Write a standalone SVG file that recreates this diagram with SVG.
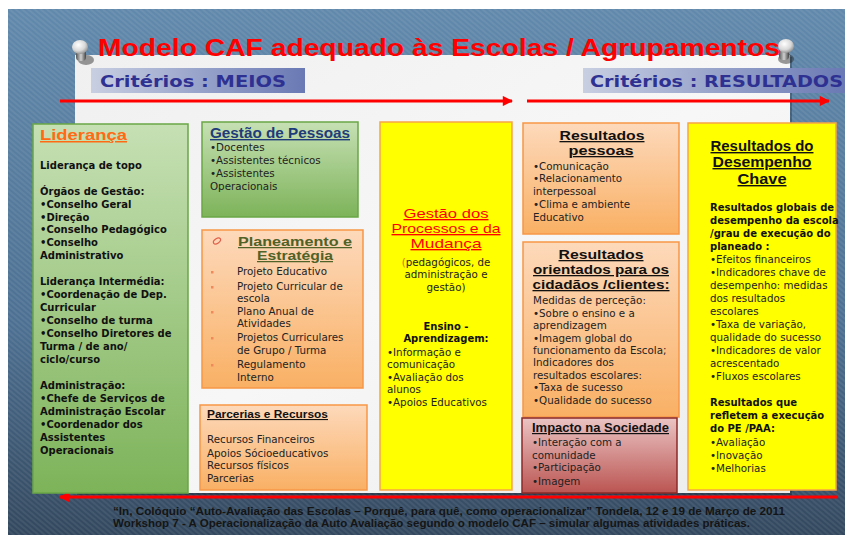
<svg xmlns="http://www.w3.org/2000/svg" width="845" height="535" viewBox="0 0 845 535">
<style>
.b{font-family:"DejaVu Sans",Verdana,sans-serif;font-size:10.3px;fill:#222}
.bb{font-family:"DejaVu Sans",Verdana,sans-serif;font-size:10px;font-weight:bold;fill:#111}
.t{font-family:"Liberation Sans",Arial,sans-serif;font-weight:bold;text-decoration:underline}
.c{text-anchor:middle}
.crit{font-family:"DejaVu Sans",Verdana,sans-serif;font-weight:bold;font-size:16px;fill:#2e3192}
.arrow{stroke:#ff0000;stroke-width:3;fill:none}
</style>
<defs>
<linearGradient id="bg" x1="0" y1="0" x2="0" y2="1">
<stop offset="0" stop-color="#6189ab"/><stop offset="0.6" stop-color="#4d7092"/><stop offset="1" stop-color="#33485e"/>
</linearGradient>
<pattern id="tex" width="4" height="4" patternUnits="userSpaceOnUse" patternTransform="rotate(40)">
<rect width="4" height="2" fill="#ffffff" opacity="0.07"/>
</pattern>
<linearGradient id="panel" x1="0" y1="0" x2="1" y2="1">
<stop offset="0" stop-color="#f0f0f0"/><stop offset="0.5" stop-color="#f7f7f7"/><stop offset="1" stop-color="#ececec"/>
</linearGradient>
<linearGradient id="green" x1="0" y1="0" x2="0" y2="1">
<stop offset="0" stop-color="#c6e0b4"/><stop offset="1" stop-color="#7db359"/>
</linearGradient>
<linearGradient id="orange" x1="0" y1="0" x2="0" y2="1">
<stop offset="0" stop-color="#fdd9bb"/><stop offset="1" stop-color="#f9b064"/>
</linearGradient>
<linearGradient id="red" x1="0" y1="0" x2="0" y2="1">
<stop offset="0" stop-color="#eac4c3"/><stop offset="1" stop-color="#bb5552"/>
</linearGradient>
<linearGradient id="crit" x1="0" y1="0" x2="1" y2="0">
<stop offset="0" stop-color="#c8cfe2"/><stop offset="1" stop-color="#6a79b4"/>
</linearGradient>
<radialGradient id="pinhead" cx="0.4" cy="0.35" r="0.7">
<stop offset="0" stop-color="#ffffff"/><stop offset="0.6" stop-color="#d8d8d8"/><stop offset="1" stop-color="#8a8a8a"/>
</radialGradient>
<linearGradient id="pinbody" x1="0" y1="0" x2="1" y2="0">
<stop offset="0" stop-color="#555"/><stop offset="0.5" stop-color="#d0d0d0"/><stop offset="1" stop-color="#444"/>
</linearGradient>
<marker id="ah" viewBox="0 0 10 10" refX="9" refY="5" markerWidth="4" markerHeight="3.4" orient="auto" markerUnits="strokeWidth">
<path d="M0,0 L10,5 L0,10 Z" fill="#ff0000"/>
</marker>
</defs>

<rect x="0" y="0" width="845" height="535" fill="#ffffff"/>
<rect x="8" y="9" width="837" height="526" fill="url(#bg)"/>
<rect x="8" y="9" width="837" height="526" fill="url(#tex)"/>

<g id="panel">
<rect x="77" y="57" width="715" height="438" fill="#000" opacity="0.25"/>
<rect x="75" y="55" width="715" height="438" fill="url(#panel)"/>
</g>

<g id="pins">
<ellipse cx="86" cy="60" rx="8" ry="5" fill="#222" opacity="0.45"/>
<rect x="76" y="48" width="10" height="13" rx="4" fill="url(#pinbody)"/>
<ellipse cx="80" cy="47" rx="8" ry="7" fill="url(#pinhead)"/>
<ellipse cx="786" cy="59" rx="8" ry="5" fill="#222" opacity="0.45"/>
<rect x="779" y="47" width="10" height="13" rx="4" fill="url(#pinbody)"/>
<ellipse cx="786" cy="46" rx="8" ry="7" fill="url(#pinhead)"/>
</g>

<g id="title">
<text x="98" y="56" font-family="Liberation Sans, Arial, sans-serif" font-weight="bold" font-size="23" fill="#ff0000" textLength="682" lengthAdjust="spacingAndGlyphs">Modelo CAF adequado às Escolas / Agrupamentos</text>
</g>

<g id="criterios-meios">
<rect x="91" y="68" width="214" height="25" fill="url(#crit)"/>
<text class="crit" x="100" y="87" textLength="186" lengthAdjust="spacingAndGlyphs">Critérios : MEIOS</text>
</g>
<g id="criterios-resultados">
<rect x="583" y="68" width="262" height="25" fill="url(#crit)"/>
<text class="crit" x="590" y="87" textLength="253" lengthAdjust="spacingAndGlyphs">Critérios : RESULTADOS</text>
</g>

<g id="connectors">
<line class="arrow" x1="60" y1="101" x2="512" y2="101" marker-end="url(#ah)"/>
<line class="arrow" x1="527" y1="101" x2="829" y2="101" marker-end="url(#ah)"/>
<line class="arrow" x1="838" y1="497" x2="60" y2="497" marker-end="url(#ah)"/>
</g>

<g id="lideranca">
<rect x="33" y="124" width="155" height="369" fill="url(#green)" stroke="#6aa745" stroke-width="1.5"/>
<text class="t" x="40" y="140" font-size="15" fill="#ff6a13" textLength="87" lengthAdjust="spacingAndGlyphs">Liderança</text>
<text class="bb" x="40" y="169">Liderança de topo</text>
<text class="bb" x="40" y="195">Órgãos de Gestão:</text>
<text class="bb" x="40" y="208">•Conselho Geral</text>
<text class="bb" x="40" y="221">•Direção</text>
<text class="bb" x="40" y="233">•Conselho Pedagógico</text>
<text class="bb" x="40" y="246">•Conselho</text>
<text class="bb" x="40" y="259">Administrativo</text>
<text class="bb" x="40" y="285">Liderança Intermédia:</text>
<text class="bb" x="40" y="298">•Coordenação de Dep.</text>
<text class="bb" x="40" y="311">Curricular</text>
<text class="bb" x="40" y="324">•Conselho de turma</text>
<text class="bb" x="40" y="337">•Conselho Diretores de</text>
<text class="bb" x="40" y="350">Turma / de ano/</text>
<text class="bb" x="40" y="363">ciclo/curso</text>
<text class="bb" x="40" y="389">Administração:</text>
<text class="bb" x="40" y="402">•Chefe de Serviços de</text>
<text class="bb" x="40" y="415">Administração Escolar</text>
<text class="bb" x="40" y="428">•Coordenador dos</text>
<text class="bb" x="40" y="441">Assistentes</text>
<text class="bb" x="40" y="454">Operacionais</text>
</g>

<g id="gestao-pessoas">
<rect x="202" y="122" width="156" height="95" fill="url(#green)" stroke="#6aa745" stroke-width="1.5"/>
<text class="t" x="210" y="138" font-size="14" fill="#1f3b7a" textLength="140" lengthAdjust="spacingAndGlyphs">Gestão de Pessoas</text>
<text class="b" x="210" y="151">•Docentes</text>
<text class="b" x="210" y="164">•Assistentes técnicos</text>
<text class="b" x="210" y="177">•Assistentes</text>
<text class="b" x="210" y="190">Operacionais</text>
</g>

<g id="planeamento">
<rect x="202" y="230" width="161" height="158" fill="url(#orange)" stroke="#f79646" stroke-width="1.5"/>
<ellipse cx="217" cy="241" rx="4" ry="2.3" transform="rotate(-35 217 241)" fill="none" stroke="#e0604a" stroke-width="1.2"/>
<text class="t" x="238" y="246" font-size="12.5" fill="#4f6228" textLength="114" lengthAdjust="spacingAndGlyphs">Planeamento e</text>
<text class="t" x="257" y="260" font-size="12.5" fill="#4f6228" textLength="76" lengthAdjust="spacingAndGlyphs">Estratégia</text>
<g fill="#f08a5d">
<rect x="211" y="271" width="2.5" height="2.5"/>
<rect x="211" y="286" width="2.5" height="2.5"/>
<rect x="211" y="311" width="2.5" height="2.5"/>
<rect x="211" y="337" width="2.5" height="2.5"/>
<rect x="211" y="364" width="2.5" height="2.5"/>
</g>
<text class="b" x="237" y="275">Projeto Educativo</text>
<text class="b" x="237" y="290">Projeto Curricular de</text>
<text class="b" x="237" y="302">escola</text>
<text class="b" x="237" y="315">Plano Anual de</text>
<text class="b" x="237" y="327">Atividades</text>
<text class="b" x="237" y="341">Projetos Curriculares</text>
<text class="b" x="237" y="354">de Grupo / Turma</text>
<text class="b" x="237" y="368">Regulamento</text>
<text class="b" x="237" y="381">Interno</text>
</g>

<g id="parcerias">
<rect x="200" y="405" width="167" height="85" fill="url(#orange)" stroke="#f79646" stroke-width="1.5"/>
<text class="t" x="207" y="418" font-size="11" fill="#111" textLength="121" lengthAdjust="spacingAndGlyphs">Parcerias e Recursos</text>
<text class="b" x="207" y="443">Recursos  Financeiros</text>
<text class="b" x="207" y="457">Apoios Sócioeducativos</text>
<text class="b" x="207" y="469">Recursos  físicos</text>
<text class="b" x="207" y="482">Parcerias</text>
</g>

<g id="gestao-processos">
<rect x="380" y="122" width="132" height="368" fill="#ffff00" stroke="#f7a546" stroke-width="1.5"/>
<g font-family="Liberation Sans, Arial, sans-serif" font-size="13.5" fill="#ff0000" text-decoration="underline" text-anchor="middle">
<text x="446" y="218" textLength="85" lengthAdjust="spacingAndGlyphs">Gestão dos</text>
<text x="446" y="233" textLength="109" lengthAdjust="spacingAndGlyphs">Processos e da</text>
<text x="446" y="248" textLength="71" lengthAdjust="spacingAndGlyphs">Mudança</text>
</g>
<text class="b c" x="446" y="266" font-size="10"><tspan fill="#e46c0a">(</tspan>pedagógicos, de</text>
<text class="b c" x="446" y="278" font-size="10">administração e</text>
<text class="b c" x="446" y="291" font-size="10">gestão)</text>
<text class="bb c" x="446" y="330">Ensino -</text>
<text class="bb c" x="446" y="342">Aprendizagem:</text>
<text class="b" x="387" y="356" font-size="10">•Informação e</text>
<text class="b" x="387" y="368" font-size="10">comunicação</text>
<text class="b" x="387" y="381" font-size="10">•Avaliação dos</text>
<text class="b" x="387" y="393" font-size="10">alunos</text>
<text class="b" x="387" y="406" font-size="10">•Apoios Educativos</text>
</g>

<g id="resultados-pessoas">
<rect x="523" y="123" width="156" height="111" fill="url(#orange)" stroke="#f79646" stroke-width="1.5"/>
<text class="t c" x="602" y="140" font-size="13" fill="#111" textLength="85" lengthAdjust="spacingAndGlyphs">Resultados</text>
<text class="t c" x="601" y="155" font-size="13" fill="#111" textLength="65" lengthAdjust="spacingAndGlyphs">pessoas</text>
<text class="b" x="533" y="170" font-size="10" fill="#3a3a3a">•Comunicação</text>
<text class="b" x="533" y="182" font-size="10" fill="#3a3a3a">•Relacionamento</text>
<text class="b" x="533" y="195" font-size="10" fill="#3a3a3a">interpessoal</text>
<text class="b" x="533" y="208" font-size="10" fill="#3a3a3a">•Clima e ambiente</text>
<text class="b" x="533" y="221" font-size="10" fill="#3a3a3a">Educativo</text>
</g>

<g id="resultados-cidadaos">
<rect x="523" y="242" width="156" height="175" fill="url(#orange)" stroke="#f79646" stroke-width="1.5"/>
<text class="t c" x="601" y="259" font-size="13" fill="#111" textLength="85" lengthAdjust="spacingAndGlyphs">Resultados</text>
<text class="t c" x="601" y="274" font-size="13" fill="#111" textLength="136" lengthAdjust="spacingAndGlyphs">orientados para os</text>
<text class="t c" x="601" y="289" font-size="13" fill="#111" textLength="137" lengthAdjust="spacingAndGlyphs">cidadãos /clientes:</text>
<text class="b" x="533" y="304" fill="#3a3a3a">Medidas de perceção:</text>
<text class="b" x="533" y="317" fill="#3a3a3a">•Sobre o ensino e a</text>
<text class="b" x="533" y="329" fill="#3a3a3a">aprendizagem</text>
<text class="b" x="533" y="342" fill="#3a3a3a">•Imagem global do</text>
<text class="b" x="533" y="354" fill="#3a3a3a">funcionamento da Escola;</text>
<text class="b" x="533" y="366" fill="#3a3a3a">Indicadores dos</text>
<text class="b" x="533" y="379" fill="#3a3a3a">resultados escolares:</text>
<text class="b" x="533" y="391" fill="#3a3a3a">•Taxa de sucesso</text>
<text class="b" x="533" y="404" fill="#3a3a3a">•Qualidade do sucesso</text>
</g>

<g id="impacto">
<rect x="522" y="418" width="155" height="75" fill="url(#red)" stroke="#8b2a28" stroke-width="1.5"/>
<text class="t" x="532" y="432" font-size="12" fill="#111" textLength="137" lengthAdjust="spacingAndGlyphs">Impacto na Sociedade</text>
<text class="b" x="532" y="446" font-size="10">•Interação com a</text>
<text class="b" x="532" y="459" font-size="10">comunidade</text>
<text class="b" x="532" y="471" font-size="10">•Participação</text>
<text class="b" x="532" y="485" font-size="10">•Imagem</text>
</g>

<g id="desempenho-chave">
<rect x="688" y="123" width="148" height="367" fill="#ffff00" stroke="#f7a546" stroke-width="1.5"/>
<text class="t c" x="762" y="151" font-size="14" fill="#111" textLength="103" lengthAdjust="spacingAndGlyphs">Resultados do</text>
<text class="t c" x="762" y="167" font-size="14" fill="#111" textLength="99" lengthAdjust="spacingAndGlyphs">Desempenho</text>
<text class="t c" x="762" y="184" font-size="14" fill="#111" textLength="49" lengthAdjust="spacingAndGlyphs">Chave</text>
<text class="bb" x="710" y="211" font-size="9">Resultados globais de</text>
<text class="bb" x="710" y="224" font-size="9">desempenho da escola</text>
<text class="bb" x="710" y="237" font-size="9">/grau de execução do</text>
<text class="bb" x="710" y="250" font-size="9">planeado :</text>
<text class="b" x="710" y="263" font-size="10" fill="#333">•Efeitos financeiros</text>
<text class="b" x="710" y="276" font-size="10" fill="#333">•Indicadores chave de</text>
<text class="b" x="710" y="289" font-size="10" fill="#333">desempenho: medidas</text>
<text class="b" x="710" y="302" font-size="10" fill="#333">dos resultados</text>
<text class="b" x="710" y="315" font-size="10" fill="#333">escolares</text>
<text class="b" x="710" y="328" font-size="10" fill="#333">•Taxa de variação,</text>
<text class="b" x="710" y="341" font-size="10" fill="#333">qualidade do sucesso</text>
<text class="b" x="710" y="354" font-size="10" fill="#333">•Indicadores de valor</text>
<text class="b" x="710" y="367" font-size="10" fill="#333">acrescentado</text>
<text class="b" x="710" y="380" font-size="10" fill="#333">•Fluxos escolares</text>
<text class="bb" x="710" y="406" font-size="9">Resultados que</text>
<text class="bb" x="710" y="419" font-size="9">refletem a execução</text>
<text class="bb" x="710" y="432" font-size="9">do PE /PAA:</text>
<text class="b" x="710" y="446" font-size="10" fill="#333">•Avaliação</text>
<text class="b" x="710" y="459" font-size="10" fill="#333">•Inovação</text>
<text class="b" x="710" y="472" font-size="10" fill="#333">•Melhorias</text>
</g>

<g id="footer" font-family="Liberation Sans, Arial, sans-serif" font-size="10" font-weight="bold" fill="#151515">
<text x="113" y="515" textLength="672" lengthAdjust="spacingAndGlyphs">“In, Colóquio “Auto-Avaliação das Escolas – Porquê, para quê, como operacionalizar” Tondela, 12 e 19 de Março de 2011</text>
<text x="113" y="527" textLength="637" lengthAdjust="spacingAndGlyphs">Workshop 7 - A Operacionalização da Auto Avaliação segundo o modelo CAF – simular algumas atividades práticas.</text>
</g>
</svg>
